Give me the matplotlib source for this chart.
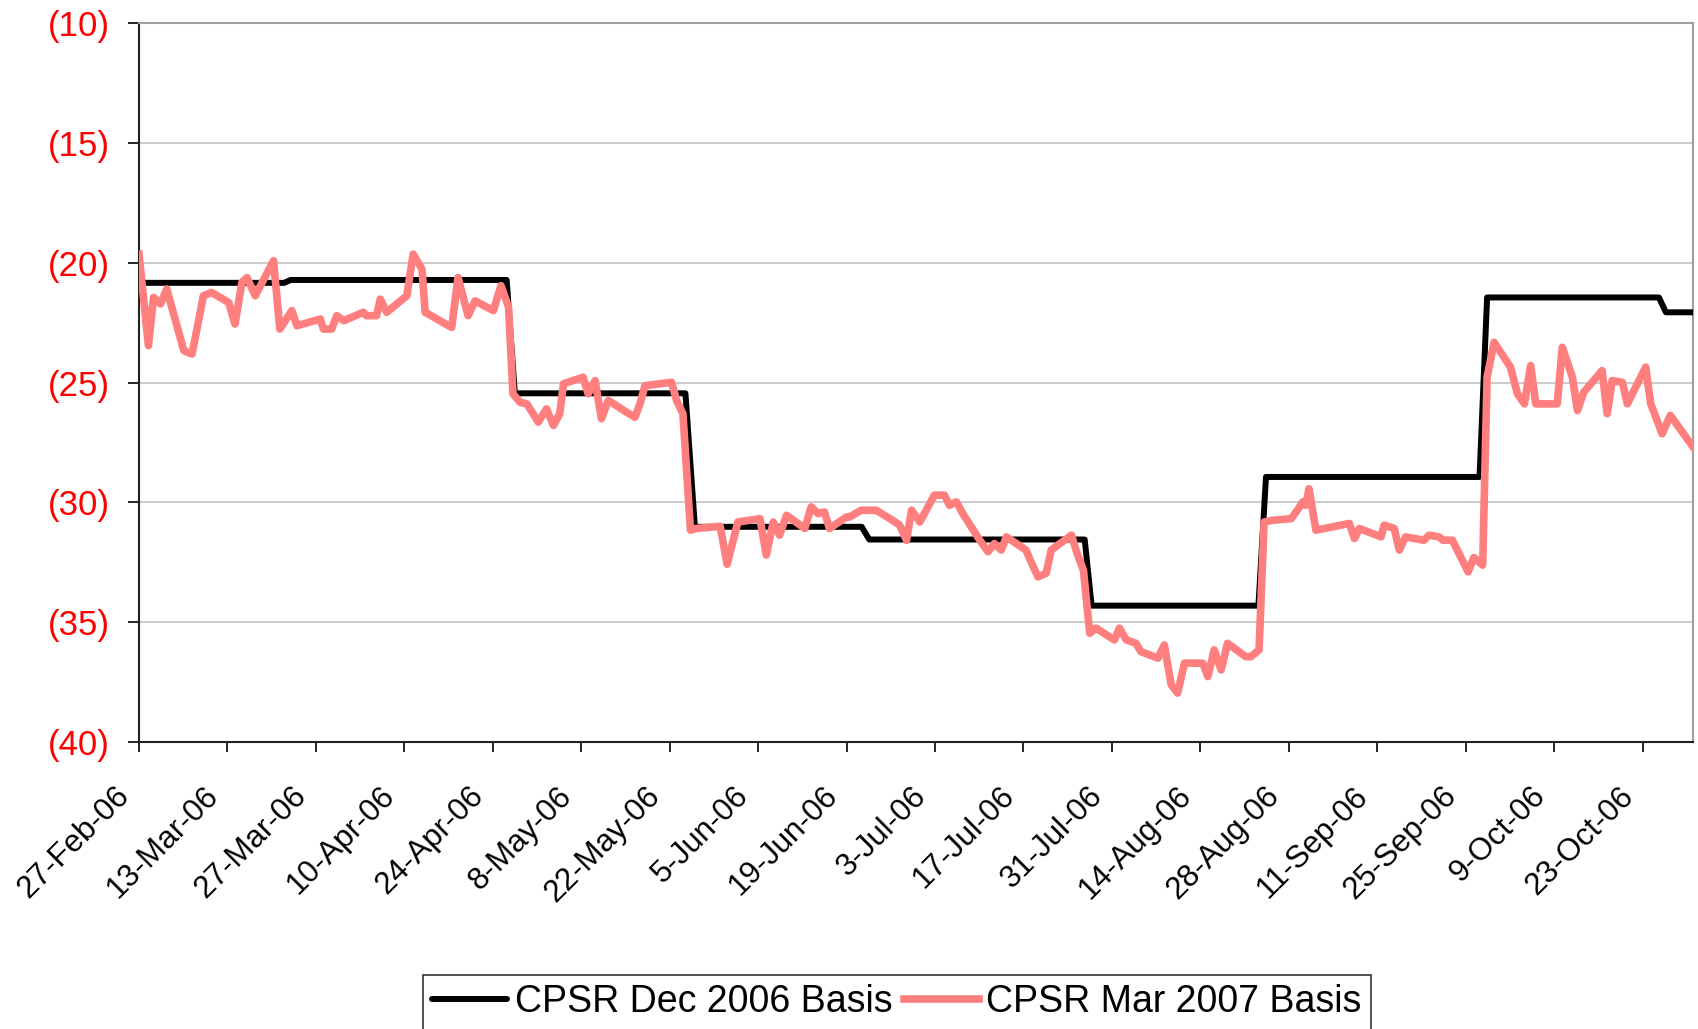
"""CPSR basis comparison chart, Dec 2006 vs Mar 2007."""

import matplotlib

matplotlib.use("Agg")
import matplotlib.pyplot as plt
import matplotlib.transforms as mtransforms
import numpy as np
import pandas as pd

plt.rcParams["font.family"] = ["Liberation Sans", "DejaVu Sans"]

START = pd.Timestamp("2006-02-27")

# day offsets from 27-Feb-06 and values
dec_days = [0, 23, 24, 58.2, 59.5, 86.5, 88, 114.4, 115.6, 149.7, 150.8,
            177.2, 178.4, 212.2, 213.4, 240.6, 241.7, 246]
dec_vals = [-20.84, -20.84, -20.72, -20.72, -25.45, -25.45, -31.02, -31.02,
            -31.55, -31.55, -34.31, -34.31, -28.94, -28.94, -21.45, -21.45,
            -22.07, -22.07]

mar_days = [0, 1.5, 2.3, 3.4, 4.4, 7.1, 8.4, 10.2, 11.5, 14.2, 15.2, 16.3,
            17.1, 18.4, 21.3, 22.3, 24.2, 25.0, 28.7, 29.2, 30.5, 31.3, 32.4,
            35.5, 36.0, 37.6, 38.2, 39.2, 42.4, 43.4, 44.8, 45.3, 49.5, 50.5,
            52.1, 53.2, 56.1, 57.3, 58.5, 59.2, 60.3, 61.4, 63.2, 64.5, 65.6,
            66.6, 67.2, 70.3, 71.1, 72.2, 73.2, 74.3, 77.2, 78.5, 79.3, 80.1,
            84.3, 85.1, 86.1, 87.3, 88.2, 92.0, 93.1, 94.8, 98.3, 99.3, 100.4,
            101.4, 102.5, 105.4, 106.4, 107.5, 108.5, 109.3, 112.0, 112.5,
            114.3, 116.7, 119.3, 120.4, 121.5, 122.3, 123.6, 125.9, 127.5,
            128.3, 129.4, 130.4, 133.1, 134.4, 135.4, 136.5, 137.3, 140.4,
            141.2, 142.3, 143.6, 144.4, 147.6, 148.5, 149.5, 150.5, 151.5,
            154.4, 155.2, 156.3, 157.8, 158.6, 161.3, 162.3, 163.4, 164.4,
            165.5, 168.4, 169.2, 170.2, 171.3, 172.3, 175.2, 176.0, 177.3,
            178.1, 179.4, 182.4, 183.7, 184.2, 184.7, 185.2, 186.3, 191.6,
            192.4, 193.2, 196.6, 197.1, 198.7, 199.5, 200.5, 203.4, 204.2,
            205.8, 206.4, 207.9, 210.4, 211.3, 212.7, 213.4, 214.5, 217.1,
            218.2, 219.3, 220.3, 221.1, 224.5, 225.3, 226.9, 227.7, 228.7,
            231.6, 232.4, 233.2, 234.8, 235.6, 238.5, 239.3, 239.8, 241.1,
            242.4, 246]
mar_vals = [-19.64, -23.46, -21.45, -21.72, -21.10, -23.67, -23.81, -21.38,
            -21.24, -21.66, -22.56, -20.82, -20.62, -21.38, -19.92, -22.77,
            -22.00, -22.63, -22.35, -22.77, -22.77, -22.21, -22.42, -22.07,
            -22.21, -22.21, -21.52, -22.07, -21.38, -19.64, -20.27, -22.07,
            -22.70, -20.62, -22.21, -21.59, -22.00, -20.96, -21.85, -25.47,
            -25.82, -25.89, -26.65, -26.10, -26.79, -26.30, -25.05, -24.78,
            -25.47, -24.92, -26.51, -25.75, -26.24, -26.45, -25.89, -25.13,
            -24.99, -25.75, -26.30, -31.16, -31.09, -31.00, -32.58, -30.82,
            -30.68, -32.20, -30.82, -31.37, -30.54, -31.09, -30.19, -30.47,
            -30.40, -31.09, -30.61, -30.61, -30.33, -30.33, -30.75, -30.95,
            -31.58, -30.33, -30.82, -29.70, -29.70, -30.12, -29.98, -30.47,
            -31.58, -32.06, -31.72, -31.99, -31.44, -31.99, -32.48, -33.11,
            -32.96, -31.99, -31.37, -32.13, -32.83, -35.46, -35.25, -35.74,
            -35.25, -35.74, -35.88, -36.23, -36.50, -35.95, -37.61, -37.96,
            -36.71, -36.71, -37.27, -36.16, -36.99, -35.88, -36.44, -36.44,
            -36.16, -30.82, -30.75, -30.68, -30.20, -29.98, -30.12, -29.43,
            -31.16, -30.88, -31.51, -31.09, -31.44, -30.95, -31.09, -31.99,
            -31.44, -31.58, -31.37, -31.44, -31.58, -31.58, -32.90, -32.30,
            -32.62, -24.78, -23.32, -24.36, -25.47, -25.89, -24.29, -25.89,
            -25.89, -23.53, -24.78, -26.17, -25.40, -24.50, -26.30, -24.92,
            -24.99, -25.89, -24.36, -25.89, -26.23, -27.14, -26.37, -27.69]

tick_dates = pd.date_range("2006-02-27", "2006-10-23", freq="14D")
y_ticks = [-40, -35, -30, -25, -20, -15, -10]

dec_x = START + pd.to_timedelta(dec_days, unit="D")
mar_x = START + pd.to_timedelta(mar_days, unit="D")

fig = plt.figure(figsize=(16.99, 10.29), dpi=100)
ax = fig.add_axes([0.0818, 0.2789, 0.9147, 0.6987])

ax.plot(dec_x, dec_vals, color="black", lw=4.3, solid_capstyle="round",
        solid_joinstyle="round", label="CPSR Dec 2006 Basis", zorder=3)
ax.plot(mar_x, mar_vals, color="#FF7F7F", lw=5.5, solid_joinstyle="round",
        label="CPSR Mar 2007 Basis", zorder=4)

ax.set_xlim(START, START + pd.Timedelta(days=246))
ax.set_ylim(-40, -10)
ax.set_yticks(y_ticks)
ax.set_yticklabels([f"({abs(v)})" for v in y_ticks])
ax.set_xticks(tick_dates)
ax.set_xticklabels([f"{d.day}-{d:%b-%y}" for d in tick_dates])

ax.grid(axis="y", color="#C8C8C8", lw=1.3)
ax.set_axisbelow(True)

for side in ("top", "right"):
    ax.spines[side].set_color("#A0A0A0")
    ax.spines[side].set_linewidth(1.5)
for side in ("left", "bottom"):
    ax.spines[side].set_color("#222222")
    ax.spines[side].set_linewidth(1.5)

ax.tick_params(axis="y", direction="out", length=8, width=1.2, pad=13,
               labelsize=25, labelcolor="red")
ax.tick_params(axis="x", direction="out", length=7, width=1.2, pad=21,
               labelsize=22.5)
shift = mtransforms.ScaledTranslation(-3 / 100, 0, fig.dpi_scale_trans)
for lbl in ax.get_xticklabels():
    lbl.set_rotation(45)
    lbl.set_ha("right")
    lbl.set_va("top")
    lbl.set_transform(lbl.get_transform() + shift)

leg = fig.legend(loc="upper center", bbox_to_anchor=(0.528, 0.0525), ncol=2,
                 fontsize=27, frameon=True, fancybox=False, edgecolor="black",
                 handlelength=2.0, handletextpad=0.2, columnspacing=0.3,
                 borderpad=0.25, borderaxespad=0)
leg.get_frame().set_linewidth(1.2)

fig.savefig("out.png", dpi=100)
plt.close(fig)
